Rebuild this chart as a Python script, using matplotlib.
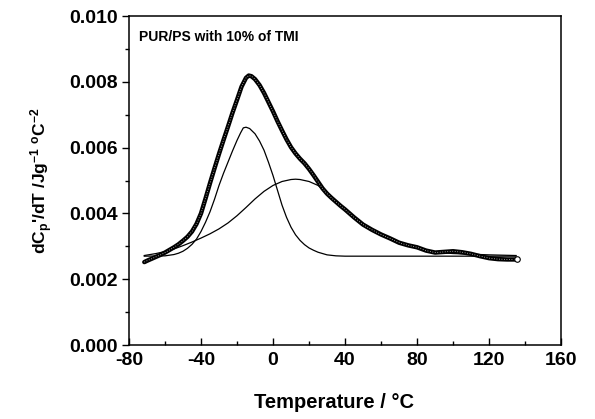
import matplotlib
matplotlib.use("Agg")
import matplotlib.pyplot as plt
from matplotlib.ticker import MultipleLocator, FormatStrFormatter

plt.rcParams['font.family'] = ['Liberation Sans', 'DejaVu Sans']
plt.rcParams['font.weight'] = 'bold'
plt.rcParams['axes.unicode_minus'] = False
plt.rcParams['mathtext.fontset'] = 'custom'
plt.rcParams['mathtext.rm'] = 'Liberation Sans:bold'
plt.rcParams['mathtext.bf'] = 'Liberation Sans:bold'
plt.rcParams['mathtext.default'] = 'bf'

# measured curve (open circles)
data_T = [-71.5, -70, -67.5, -65, -62.5, -60, -57.5, -55, -52.5, -50, -47.5, -45,
          -42.5, -40, -37.5, -35, -32.5, -30, -27.5, -25, -22.5, -20, -17.5, -15,
          -13.5, -12, -10, -7.5, -5, -2.5, 0, 2.5, 5, 7.5, 10, 12.5, 15, 17.5, 20,
          22.5, 25, 27.5, 30, 32.5, 35, 37.5, 40, 45, 50, 55, 60, 65, 70, 75, 80,
          85, 90, 95, 100, 105, 110, 115, 120, 125, 130, 135.4]
data_y = [0.00252, 0.00256, 0.00262, 0.00268, 0.00274, 0.00281, 0.00289, 0.00297,
          0.00306, 0.00317, 0.00329, 0.00345, 0.00368, 0.00400, 0.00445, 0.00492,
          0.00537, 0.00581, 0.00623, 0.00664, 0.00706, 0.00745, 0.00785, 0.00812,
          0.00819, 0.00817, 0.00808, 0.00790, 0.00766, 0.00738, 0.00710, 0.00680,
          0.00652, 0.00625, 0.00601, 0.00582, 0.00566, 0.00552, 0.00535, 0.00516,
          0.00496, 0.00476, 0.00460, 0.00447, 0.00435, 0.00423, 0.00412, 0.00388,
          0.00366, 0.00350, 0.00336, 0.00324, 0.00311, 0.00303, 0.00297, 0.00287,
          0.00281, 0.00283, 0.00285, 0.00282, 0.00277, 0.00270, 0.00264, 0.00261,
          0.00260, 0.00260]

# narrow component
c1_T = [-71.5, -60, -55, -52.5, -50, -47.5, -45, -42.5, -40, -37.5, -35, -32.5, -30,
        -27.5, -25, -22.5, -20, -18, -16.5, -15, -13, -10, -7.5, -5, -2.5, 0, 2.5,
        5, 7.5, 10, 12.5, 15, 17.5, 20, 22.5, 25, 27.5, 30, 35, 40, 135]
c1_y = [0.00270, 0.00271, 0.00275, 0.00279, 0.00285, 0.00294, 0.00306, 0.00322,
        0.00345, 0.00373, 0.00405, 0.00443, 0.00485, 0.00522, 0.00556, 0.00590,
        0.00622, 0.00645, 0.00660, 0.00662, 0.00658, 0.00642, 0.00620, 0.00592,
        0.00555, 0.00515, 0.00470, 0.00425, 0.00388, 0.00358, 0.00335, 0.00318,
        0.00305, 0.00295, 0.00288, 0.00282, 0.00278, 0.00274, 0.00271, 0.00270,
        0.00270]

# broad component
c2_T = [-71.5, -65, -60, -55, -50, -45, -40, -35, -30, -25, -20, -15, -10, -5, 0,
        5, 10, 12.5, 15, 20, 25, 30, 35, 40, 45, 50, 55, 60, 65, 70, 75, 80, 85,
        90, 95, 100, 110, 120, 135]
c2_y = [0.00272, 0.00278, 0.00284, 0.00292, 0.00302, 0.00313, 0.00325, 0.00338,
        0.00353, 0.00371, 0.00393, 0.00418, 0.00444, 0.00467, 0.00485, 0.00497,
        0.00503, 0.00504, 0.00503, 0.00497, 0.00485, 0.00464, 0.00436, 0.00412,
        0.00388, 0.00366, 0.00350, 0.00336, 0.00324, 0.00311, 0.00303, 0.00296,
        0.00288, 0.00282, 0.00280, 0.00278, 0.00276, 0.00274, 0.00272]

fig = plt.figure(figsize=(5.95, 4.19), dpi=100)
ax = fig.add_axes([0.2168, 0.1766, 0.7262, 0.7852])

ax.plot(c1_T, c1_y, color='black', lw=0.9)
ax.plot(c2_T, c2_y, color='black', lw=0.9)
ax.plot(data_T, data_y, color='black', lw=3.2, solid_capstyle='round', solid_joinstyle='round')
ax.plot(data_T, data_y, color='#c8c8c8', lw=0.6, ls=(0, (1, 2)))
ax.plot(data_T[-1], data_y[-1], 'o', ms=4, mfc='white', mec='black', mew=0.8)

ax.set_xlim(-80, 160)
ax.set_ylim(0, 0.010)
ax.xaxis.set_major_locator(MultipleLocator(40))
ax.xaxis.set_minor_locator(MultipleLocator(20))
ax.yaxis.set_major_locator(MultipleLocator(0.002))
ax.yaxis.set_minor_locator(MultipleLocator(0.001))
ax.yaxis.set_major_formatter(FormatStrFormatter('%.3f'))

ax.tick_params(axis='x', which='major', direction='in', length=5, width=1, labelsize=14, pad=5)
ax.tick_params(axis='x', which='minor', direction='in', length=3, width=1)
ax.tick_params(axis='y', which='major', direction='out', length=5, width=1, labelsize=14, pad=3)
ax.tick_params(axis='y', which='minor', direction='out', length=3, width=1)
for s in ax.spines.values():
    s.set_linewidth(1.1)

ax.set_xlabel('Temperature / °C', fontsize=14.5, fontweight='bold')
ax.xaxis.set_label_coords(0.475, -0.145)
ax.set_ylabel(r"dC$_\mathbf{p}$'/dT /Jg$^\mathbf{-1}$ $^\mathbf{o}$C$^\mathbf{-2}$",
              fontsize=12.5, fontweight='bold', labelpad=10)

ax.text(0.022, 0.935, 'PUR/PS with 10% of TMI', transform=ax.transAxes,
        fontsize=10, fontweight='bold', va='center', ha='left')

fig.savefig('out.png', dpi=100)
